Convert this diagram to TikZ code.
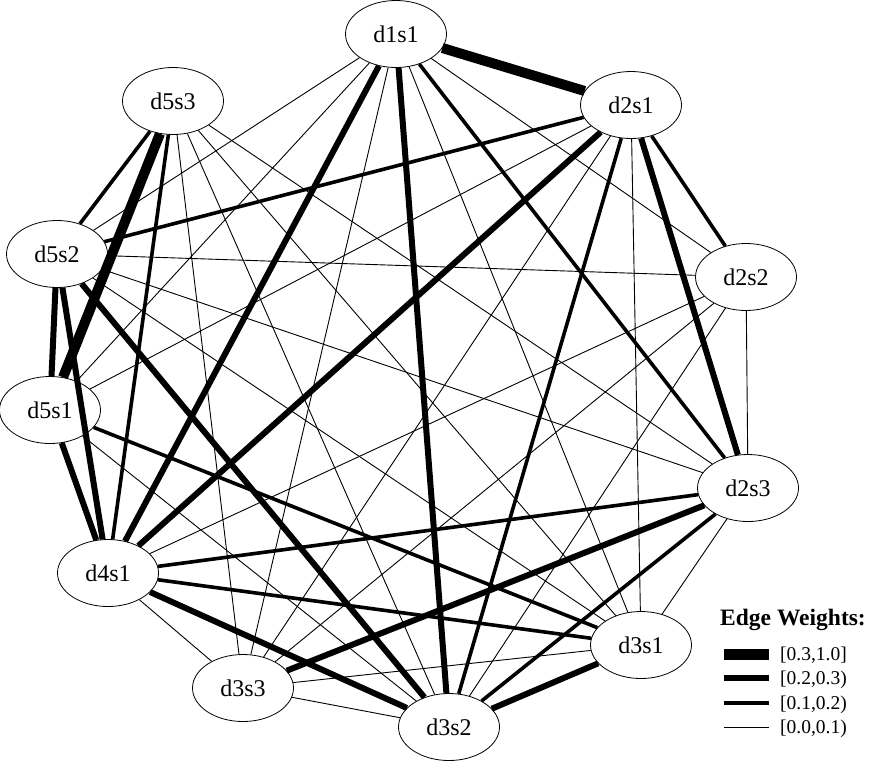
\documentclass[tikz,border=0pt]{standalone}
\usepackage{fontspec}
\setmainfont{Liberation Serif}
\usetikzlibrary{shapes.geometric}
\begin{document}
\begin{tikzpicture}[x=1pt,y=-1pt,
  vert/.style={ellipse,draw,line width=0.8pt,fill=white,minimum width=101pt,minimum height=67pt,inner sep=0pt,font=\fontsize{24}{28}\selectfont},
  wa/.style={line width=0.9pt},
  wb/.style={line width=3.6pt},
  wc/.style={line width=6pt},
  wd/.style={line width=10pt},
  legtext/.style={anchor=base west,inner sep=0pt,font=\fontsize{19.5}{22}\selectfont}]
\useasboundingbox (0,0) rectangle (869,761);
\fill[white] (0,0) rectangle (869,761);
% nodes
\node[vert] (d1s1) at (396,34)  {d1s1};
\node[vert] (d2s1) at (631,105) {d2s1};
\node[vert] (d2s2) at (746,277) {d2s2};
\node[vert] (d2s3) at (748,488) {d2s3};
\node[vert] (d3s1) at (641,645) {d3s1};
\node[vert] (d3s2) at (449,727) {d3s2};
\node[vert] (d3s3) at (243,688) {d3s3};
\node[vert] (d4s1) at (108,573) {d4s1};
\node[vert] (d5s1) at (50,410)  {d5s1};
\node[vert] (d5s2) at (57,254)  {d5s2};
\node[vert] (d5s3) at (173,101) {d5s3};
% edges
\draw[wd] (d1s1) -- (d2s1);
\draw[wa] (d1s1) -- (d2s2);
\draw[wb] (d1s1) -- (d2s3);
\draw[wa] (d1s1) -- (d3s1);
\draw[wc] (d1s1) -- (d3s2);
\draw[wa] (d1s1) -- (d3s3);
\draw[wc] (d1s1) -- (d4s1);
\draw[wa] (d1s1) -- (d5s1);
\draw[wa] (d1s1) -- (d5s2);
\draw[wb] (d2s1) -- (d2s2);
\draw[wc] (d2s1) -- (d2s3);
\draw[wa] (d2s1) -- (d3s1);
\draw[wb] (d2s1) -- (d3s2);
\draw[wa] (d2s1) -- (d3s3);
\draw[wc] (d2s1) -- (d4s1);
\draw[wa] (d2s1) -- (d5s1);
\draw[wb] (d2s1) -- (d5s2);
\draw[wa] (d2s2) -- (d2s3);
\draw[wa] (d2s2) -- (d3s2);
\draw[wa] (d2s2) -- (d3s3);
\draw[wa] (d2s2) -- (d4s1);
\draw[wa] (d2s2) -- (d5s2);
\draw[wa] (d2s3) -- (d3s1);
\draw[wb] (d2s3) -- (d3s2);
\draw[wc] (d2s3) -- (d3s3);
\draw[wb] (d2s3) -- (d4s1);
\draw[wa] (d2s3) -- (d5s2);
\draw[wa] (d2s3) -- (d5s3);
\draw[wc] (d3s1) -- (d3s2);
\draw[wa] (d3s1) -- (d3s3);
\draw[wb] (d3s1) -- (d4s1);
\draw[wb] (d3s1) -- (d5s1);
\draw[wa] (d3s1) -- (d5s2);
\draw[wa] (d3s1) -- (d5s3);
\draw[wa] (d3s2) -- (d3s3);
\draw[wc] (d3s2) -- (d4s1);
\draw[wa] (d3s2) -- (d5s1);
\draw[wc] (d3s2) -- (d5s2);
\draw[wa] (d3s2) -- (d5s3);
\draw[wa] (d3s3) -- (d4s1);
\draw[wa] (d3s3) -- (d5s3);
\draw[wc] (d4s1) -- (d5s1);
\draw[wc] (d4s1) -- (d5s2);
\draw[wb] (d4s1) -- (d5s3);
\draw[wc] (d5s1) -- (d5s2);
\draw[wd] (d5s1) -- (d5s3);
\draw[wb] (d5s2) -- (d5s3);
% legend
\node[anchor=base west,inner sep=0pt,font=\fontsize{23.5}{26}\bfseries\selectfont] (legtitle) at (720,625) {Edge Weights:};
\coordinate (l1a) at (724,654); \coordinate (l1b) at (769,654);
\coordinate (l2a) at (724,678); \coordinate (l2b) at (769,678);
\coordinate (l3a) at (724,703); \coordinate (l3b) at (769,703);
\coordinate (l4a) at (724,727); \coordinate (l4b) at (769,727);
\draw[line width=11pt] (l1a) -- (l1b);
\draw[line width=6pt] (l2a) -- (l2b);
\draw[line width=4pt] (l3a) -- (l3b);
\draw[line width=1pt] (l4a) -- (l4b);
\node[legtext] (lt1) at (780,660) {[0.3,1.0]};
\node[legtext] (lt2) at (780,684) {[0.2,0.3)};
\node[legtext] (lt3) at (780,709) {[0.1,0.2)};
\node[legtext] (lt4) at (780,733) {[0.0,0.1)};
\end{tikzpicture}
\end{document}
